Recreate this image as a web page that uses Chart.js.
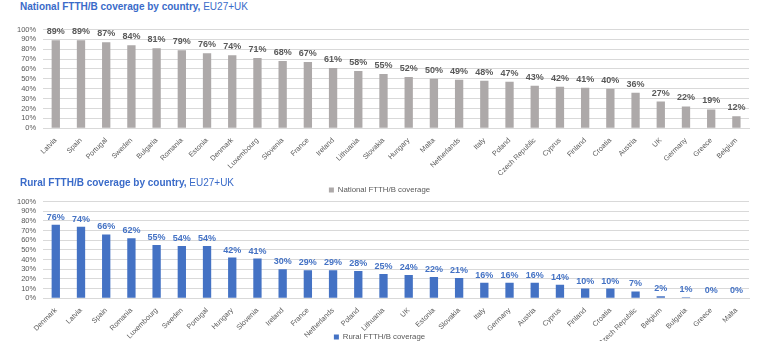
<!DOCTYPE html>
<html>
<head>
<meta charset="utf-8">
<script src="https://cdn.jsdelivr.net/npm/chart.js@4"></script>
<style>
  body { margin: 0; background: #fff; font-family: "Liberation Sans", Arial, sans-serif; }
  #wrap { position: relative; width: 761px; height: 341px; overflow: hidden; }
  .title { position: absolute; left: 20px; font-size: 10px; color: #3A6BC9; white-space: nowrap; }
  .title b { font-weight: bold; }
  .box { position: absolute; left: 0; width: 761px; }
</style>
</head>
<body>
<div id="wrap">
  <div class="title" style="top:1px;"><b>National FTTH/B coverage by country,</b> EU27+UK</div>
  <div class="box" style="top:18px;height:186px;"><canvas id="nationalChart"></canvas></div>
  <div class="title" style="top:177px;"><b>Rural FTTH/B coverage by country,</b> EU27+UK</div>
  <div class="box" style="top:190px;height:161px;"><canvas id="ruralChart"></canvas></div>
</div>
<script>
// National FTTH/B coverage (%)
const nationalCountries = ['Latvia', 'Spain', 'Portugal', 'Sweden', 'Bulgaria', 'Romania', 'Estonia', 'Denmark',
  'Luxembourg', 'Slovenia', 'France', 'Ireland', 'Lithuania', 'Slovakia', 'Hungary', 'Malta', 'Netherlands',
  'Italy', 'Poland', 'Czech Republic', 'Cyprus', 'Finland', 'Croatia', 'Austria', 'UK', 'Germany', 'Greece', 'Belgium'];
const nationalValues = [89, 89, 87, 84, 81, 79, 76, 74, 71, 68, 67, 61, 58, 55, 52, 50, 49, 48, 47, 43, 42, 41, 40, 36, 27, 22, 19, 12];

// Rural FTTH/B coverage (%)
const ruralCountries = ['Denmark', 'Latvia', 'Spain', 'Romania', 'Luxembourg', 'Sweden', 'Portugal', 'Hungary',
  'Slovenia', 'Ireland', 'France', 'Netherlands', 'Poland', 'Lithuania', 'UK', 'Estonia', 'Slovakia', 'Italy',
  'Germany', 'Austria', 'Cyprus', 'Finland', 'Croatia', 'Czech Republic', 'Belgium', 'Bulgaria', 'Greece', 'Malta'];
const ruralValues = [76, 74, 66, 62, 55, 54, 54, 42, 41, 30, 29, 29, 28, 25, 24, 22, 21, 16, 16, 16, 14, 10, 10, 7, 2, 1, 0, 0];

const yTicks = [0, 10, 20, 30, 40, 50, 60, 70, 80, 90, 100];

const FONT = '"Liberation Sans", Arial, sans-serif';

/**
 * Draw the value above every bar
 */
const valueLabels = {
  id: 'valueLabels',
  afterDatasetsDraw(chart, args, opts) {
    const ctx = chart.ctx;
    ctx.save();
    ctx.font = 'bold 9px ' + FONT;
    ctx.fillStyle = opts.color;
    ctx.textAlign = 'center';
    ctx.textBaseline = 'bottom';
    const meta = chart.getDatasetMeta(0);
    meta.data.forEach((bar, i) => {
      const v = chart.data.datasets[0].data[i];
      ctx.fillText(v + '%', bar.x, bar.y - opts.gap);
    });
    ctx.restore();
  }
};

/**
 * Let the rotated category labels run past the axis box (they overlap the legend, as in the original)
 */
const labelOverflow = {
  id: 'labelOverflow',
  afterLayout(chart) {
    chart.scales.x.bottom = chart.height;
  }
};

function makeChart(canvas, labels, values, seriesName, barColor, labelColor, gap, padTop, xHeight) {
  return new Chart(canvas, {
    type: 'bar',
    data: {
      labels: labels,
      datasets: [{
        label: seriesName,
        data: values,
        backgroundColor: barColor,
        borderWidth: 0,
        barPercentage: 0.33,
        categoryPercentage: 1
      }]
    },
    options: {
      responsive: true,
      maintainAspectRatio: false,
      animation: false,
      layout: { padding: { left: 10, right: 12, top: padTop, bottom: 0 } },
      plugins: {
        legend: {
          position: 'bottom',
          labels: {
            boxWidth: 5,
            boxHeight: 5,
            padding: 4,
            color: '#595959',
            font: { family: FONT, size: 7.8 }
          }
        },
        tooltip: { enabled: false },
        valueLabels: { color: labelColor, gap: gap }
      },
      scales: {
        x: {
          grid: { display: false },
          border: { color: '#D9D9D9' },
          afterFit: axis => { axis.height = xHeight; },
          ticks: {
            color: '#595959',
            font: { family: FONT, size: 7.2 },
            minRotation: 45,
            maxRotation: 45,
            autoSkip: false,
            padding: 0
          }
        },
        y: {
          min: 0,
          max: 100,
          afterBuildTicks: axis => { axis.ticks = yTicks.map(v => ({ value: v })); },
          grid: { color: '#D9D9D9', drawTicks: false },
          border: { display: false },
          ticks: {
            color: '#595959',
            font: { family: FONT, size: 7.5 },
            padding: 7,
            autoSkip: false,
            callback: v => v + '%'
          }
        }
      }
    },
    plugins: [valueLabels, labelOverflow]
  });
}

makeChart(document.getElementById('nationalChart'), nationalCountries, nationalValues,
  'National FTTH/B coverage', '#ADA9A9', '#595959', 4, 7, 54);
makeChart(document.getElementById('ruralChart'), ruralCountries, ruralValues,
  'Rural FTTH/B coverage', '#4472C4', '#4472C4', 3, 4, 31);
</script>
</body>
</html>
